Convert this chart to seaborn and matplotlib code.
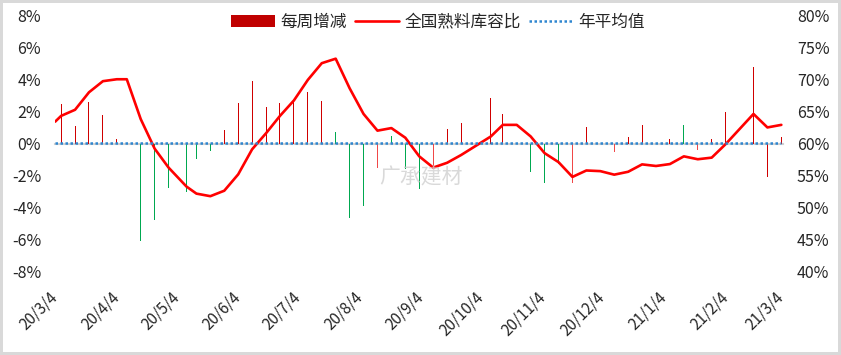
import numpy as np
import pandas as pd
import matplotlib
matplotlib.use("Agg")
import matplotlib.pyplot as plt
import matplotlib.dates as mdates
from matplotlib.ticker import FuncFormatter, MultipleLocator
from matplotlib.patches import Patch
from matplotlib.lines import Line2D
import seaborn as sns

# ---------------- data ----------------
dates = ["2020-03-04", "2020-03-07", "2020-03-14", "2020-03-21", "2020-03-28", "2020-04-04",
         "2020-04-09", "2020-04-16", "2020-04-23", "2020-04-30", "2020-05-09", "2020-05-14",
         "2020-05-21", "2020-05-28", "2020-06-04", "2020-06-11", "2020-06-18", "2020-06-25",
         "2020-07-02", "2020-07-09", "2020-07-16", "2020-07-23", "2020-07-30", "2020-08-06",
         "2020-08-13", "2020-08-20", "2020-08-27", "2020-09-03", "2020-09-10", "2020-09-17",
         "2020-09-24", "2020-10-09", "2020-10-15", "2020-10-22", "2020-10-29", "2020-11-05",
         "2020-11-12", "2020-11-19", "2020-11-26", "2020-12-03", "2020-12-10", "2020-12-17",
         "2020-12-24", "2020-12-31", "2021-01-07", "2021-01-14", "2021-01-21", "2021-01-28",
         "2021-02-04", "2021-02-18", "2021-02-25", "2021-03-04"]

# 全国熟料库容比 (%), right axis
ratio = [63.4, 64.3, 65.25, 67.97, 69.7, 70.0,
         70.0, 63.8, 59.2, 56.25, 53.3, 52.2,
         51.8, 52.65, 55.2, 59.1, 61.6, 64.3,
         66.7, 69.9, 72.5, 73.2, 68.6, 64.6,
         62.0, 62.4, 60.9, 58.0, 56.25, 57.0,
         58.2, 61.1, 62.9, 62.9, 61.1, 58.5,
         57.1, 54.8, 55.8, 55.7, 55.15, 55.6,
         56.75, 56.5, 56.8, 58.0, 57.55, 57.8,
         59.9, 64.6, 62.5, 62.9]

# 每周增减 (%), left axis
weekly_change = [np.nan, 2.46, 1.08, 2.58, 1.77, 0.27,
                 -0.05, -6.08, -4.77, -2.77, -3.02, -0.94,
                 -0.46, 0.83, 2.52, 3.89, 2.27, 2.52,
                 2.66, 3.23, 2.64, 0.71, -4.65, -3.90,
                 -1.50, 0.46, -1.60, -2.86, -1.50, 0.89,
                 1.27, 2.83, 1.83, 0.0, -1.80, -2.46,
                 -1.30, -2.44, 1.02, -0.05, -0.52, 0.39,
                 1.14, -0.20, 0.27, 1.14, -0.40, 0.27,
                 1.96, 4.77, -2.09, 0.39]

annual_avg = 60.0  # 年平均值 (%)

series_names = ["每周增减", "全国熟料库容比", "年平均值"]
watermark = "广承建材"

# ---------------- styling ----------------
sns.set_style("white")
plt.rcParams["font.family"] = ["Noto Sans CJK SC", "DejaVu Sans"]
plt.rcParams["axes.unicode_minus"] = False

RED_BAR = "#D00000"
GREEN_BAR = "#00A850"
LIGHT_RED = "#F04848"
LINE_RED = "#FF0000"
AVG_BLUE = "#2E86D0"
# bars whose colour differs from the sign rule in the original
flipped = {"2020-07-23", "2020-08-13", "2020-08-20", "2020-09-10", "2020-11-19",
           "2020-12-03", "2020-12-10", "2020-12-31", "2021-01-14", "2021-01-21",
           "2021-02-25"}

df = pd.DataFrame({"date": pd.to_datetime(dates), "ratio": ratio, "chg": weekly_change})

def bar_color(d, v):
    pos = v >= 0
    if d in flipped:
        return GREEN_BAR if pos else (RED_BAR if d == "2021-02-25" else LIGHT_RED)
    return RED_BAR if pos else GREEN_BAR

colors = [bar_color(d, v) if not np.isnan(v) else RED_BAR for d, v in zip(dates, weekly_change)]

fig = plt.figure(figsize=(8.41, 3.55), dpi=100)
fig.patch.set_facecolor("white")
fig.patch.set_edgecolor("#D9D9D9")
fig.patch.set_linewidth(4)
ax = fig.add_axes([55 / 841, 1 - 272 / 355, (783 - 55) / 841, (272 - 15) / 355])

# bars (left axis)
ax.bar(df["date"], df["chg"].fillna(0), width=0.5, color=colors, zorder=3,
       linewidth=0, antialiased=False)
ax.set_ylim(-8, 8)
ax.yaxis.set_major_locator(MultipleLocator(2))
ax.yaxis.set_major_formatter(FuncFormatter(lambda v, p: f"{v:.0f}%"))

start = pd.Timestamp("2020-03-04")
end = pd.Timestamp("2021-03-04")
ax.set_xlim(start - pd.Timedelta(hours=2), end + pd.Timedelta(hours=20))
ax.xaxis.set_major_locator(mdates.MonthLocator(bymonthday=4))
ax.xaxis.set_major_formatter(FuncFormatter(
    lambda v, p: (lambda d: f"{d.year % 100}/{d.month}/{d.day}")(mdates.num2date(v))))
# zero axis of the left axes: gray line with gray tick marks, no labels
for k in ("top", "left", "right"):
    ax.spines[k].set_visible(False)
ax.spines["bottom"].set_position(("data", 0))
ax.spines["bottom"].set_color("#D0D0D0")
ax.spines["bottom"].set_linewidth(1.5)
ax.tick_params(axis="x", length=6, width=2, color="#D0D0D0", direction="out",
               labelbottom=False)
ax.tick_params(axis="y", length=0, pad=10, labelsize=11.5)
ax.set_xlabel("")
ax.set_ylabel("")

# right axis line
ax2 = ax.twinx()
sns.lineplot(data=df, x="date", y="ratio", ax=ax2, color=LINE_RED, linewidth=1.9, zorder=4)
ax2.plot(df["date"], [annual_avg] * len(df), linestyle=(0, (1, 1)), color=AVG_BLUE,
         linewidth=1.8, zorder=5)
ax2.set_ylim(40, 80)
ax2.yaxis.set_major_locator(MultipleLocator(5))
ax2.yaxis.set_major_formatter(FuncFormatter(lambda v, p: f"{v:.0f}%"))
ax2.tick_params(axis="y", length=0, pad=10, labelsize=11.5)
ax2.set_ylabel("")
ax2.set_xlabel("")
for s in ax2.spines.values():
    s.set_visible(False)
# date labels shown at the bottom of the plot area through the twin axes
ax2.xaxis.set_visible(True)
ax2.xaxis.tick_bottom()
ax2.tick_params(axis="x", length=0, pad=16, labelsize=11, labelbottom=True)
for lab in ax2.get_xticklabels():
    lab.set_rotation(45)
    lab.set_ha("right")
    lab.set_va("center")
    lab.set_rotation_mode("anchor")

fig.text(421 / 841, 1 - 177 / 355, watermark, fontsize=15, color="#D0D0D0", alpha=0.8,
         ha="center", va="center", zorder=10)

handles = [Patch(facecolor="#C00000", edgecolor="none"),
           Line2D([], [], color=LINE_RED, linewidth=1.9),
           Line2D([], [], color=AVG_BLUE, linewidth=1.8, linestyle=(0, (1, 1)))]
fig.legend(handles, series_names, loc="center", bbox_to_anchor=(438 / 841, 1 - 22 / 355),
           ncol=3, frameon=False, fontsize=12, handlelength=2.6, handletextpad=0.35,
           columnspacing=0.5, borderpad=0)

fig.savefig("out.png", dpi=100)
